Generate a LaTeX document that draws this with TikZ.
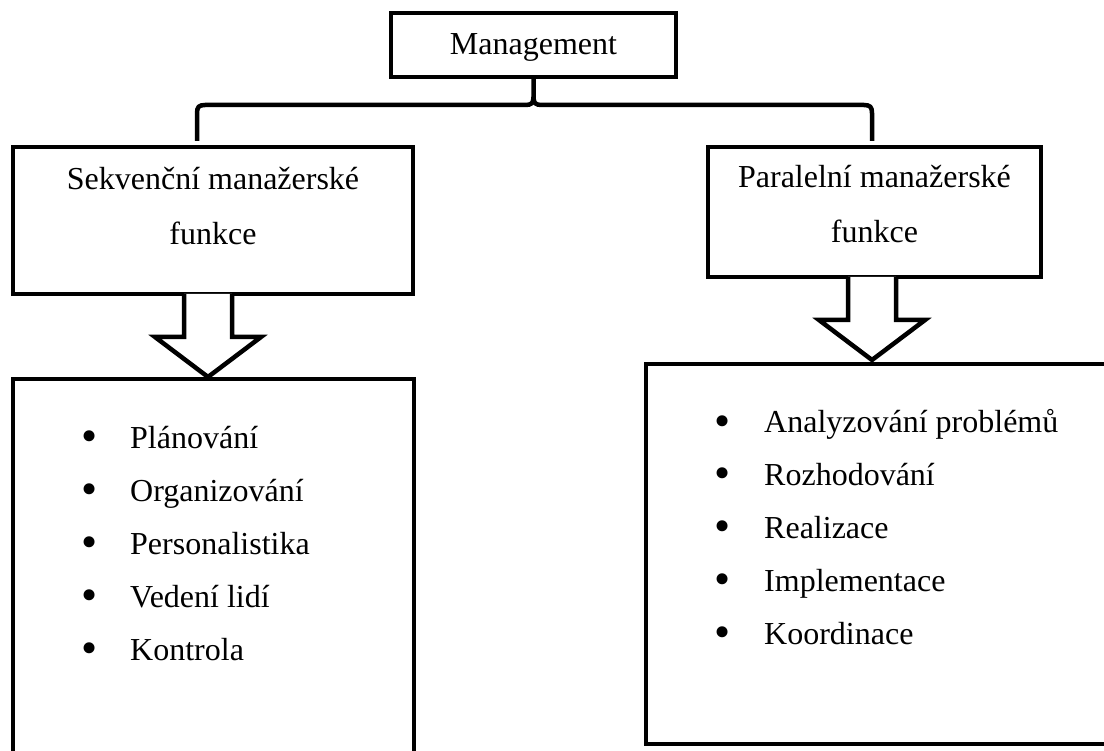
\documentclass[tikz,border=0pt]{standalone}
\usepackage{fontspec}
\setmainfont{Liberation Serif}
\usetikzlibrary{calc}
\begin{document}
\begin{tikzpicture}[x=1pt,y=-1pt,
  frame/.style={draw=black,line width=4.5pt,inner sep=0pt,outer sep=0pt},
  lbl/.style={font=\fontsize{32}{38}\selectfont,inner sep=0pt,anchor=base},
  item/.style={font=\fontsize{32}{38}\selectfont,inner sep=0pt,anchor=base west},
  dot/.style={font=\fontsize{46}{50}\selectfont,inner sep=0pt,anchor=base},
  link/.style={draw=black,line width=4.5pt},
  blockarrow/.style={draw=black,fill=white,line width=4.5pt,line join=miter},
  downarrow/.pic={\draw[blockarrow] (-24,0) -- (-24,43) -- (-53,43) -- (0,83) -- (53,43) -- (24,43) -- (24,0);}]
\clip (0,0) rectangle (1104,751);
\fill[white] (0,0) rectangle (1104,751);

% boxes
\node[frame,minimum width=285pt,minimum height=64pt] (mg) at (533.5,45) {};
\node[frame,minimum width=400pt,minimum height=147pt] (sek) at (213,220.5) {};
\node[frame,minimum width=333pt,minimum height=130pt] (par) at (874.5,212) {};
\node[frame,minimum width=401pt,minimum height=430pt] (lst1) at (213.5,594) {};
\node[frame,minimum width=480pt,minimum height=380pt] (lst2) at (886,554) {};

% titles
\node[lbl] (tmg) at (533.5,55) {Management};
\node[lbl] (tsek1) at (213,190) {Sekvenční manažerské};
\node[lbl] (tsek2) at (213,245) {funkce};
\node[lbl] (tpar1) at (874.5,188) {Paralelní manažerské};
\node[lbl] (tpar2) at (874.5,243) {funkce};

% brace from Management to both function groups
\coordinate (bl) at (197,141);
\coordinate (br) at (872,141);
\draw[link,line join=round] (mg.south) -- ($(mg.south)+(0,20)$)
  .. controls ($(mg.south)+(0,26)$) and ($(mg.south)+(-2,28)$) .. ($(mg.south)+(-8,28)$)
  -- (205,105) .. controls (199,105) and (197,107) .. (197,113) -- (bl);
\draw[link,line join=round] ($(mg.south)+(0,20)$)
  .. controls ($(mg.south)+(0,26)$) and ($(mg.south)+(2,28)$) .. ($(mg.south)+(8,28)$)
  -- (864,105) .. controls (870,105) and (872,107) .. (872,113) -- (br);

% block arrows
\coordinate (a1) at (208,294);
\coordinate (a2) at (872,277);
\pic at (a1) {downarrow};
\pic at (a2) {downarrow};

% left list
\foreach \t [count=\i from 0] in {Plánování,Organizování,Personalistika,Vedení lidí,Kontrola}{
  \node[dot] (ld\i) at (90,452+52.75*\i) {•};
  \node[item] (lt\i) at (130,449+52.75*\i) {\t};
}
% right list
\foreach \t [count=\i from 0] in {Analyzování problémů,Rozhodování,Realizace,Implementace,Koordinace}{
  \node[dot] (rd\i) at (723,436+52.75*\i) {•};
  \node[item] (rt\i) at (764,433+52.75*\i) {\t};
}
\end{tikzpicture}
\end{document}
